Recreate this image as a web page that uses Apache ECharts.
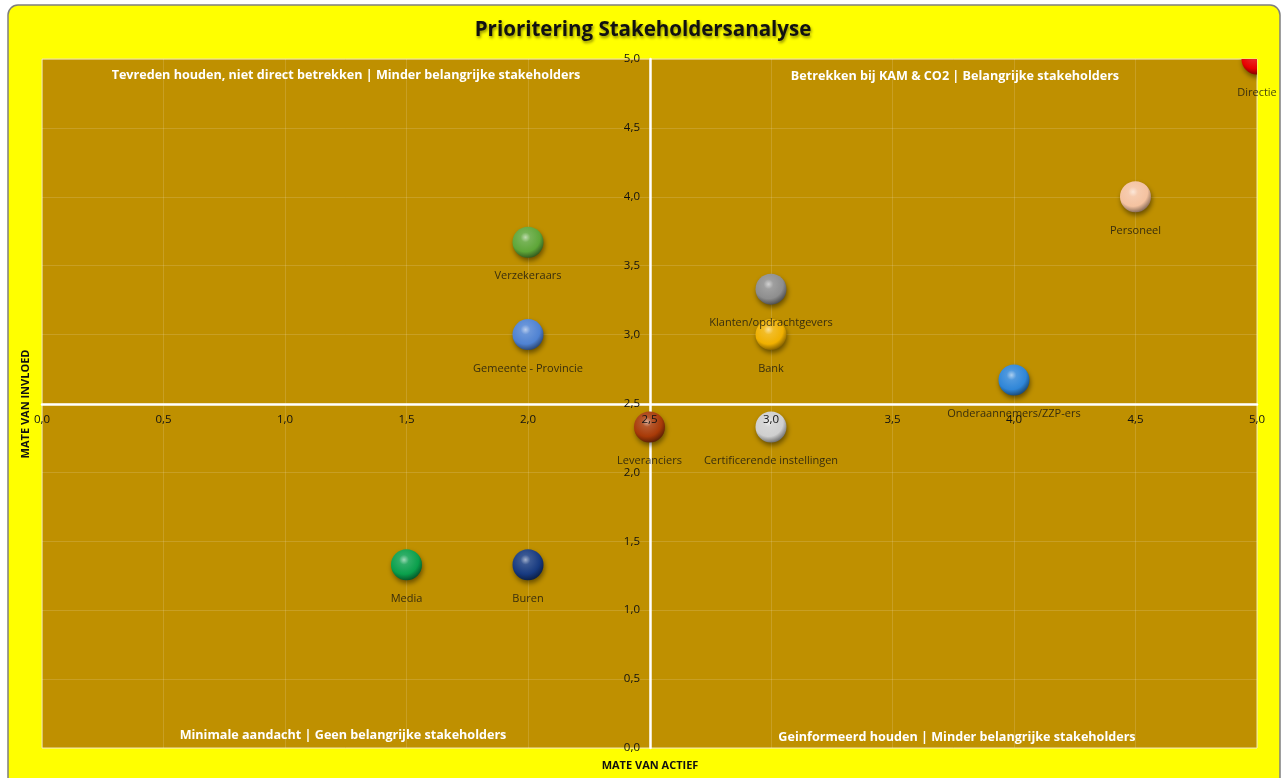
<!DOCTYPE html>
<html>
<head>
<meta charset="utf-8">
<script src="https://cdn.jsdelivr.net/npm/echarts@6/dist/echarts.min.js"></script>
<style>
  html, body { margin:0; padding:0; background:#fff; }
  #chart { width:1282px; height:778px; }
</style>
</head>
<body>
<div id="chart"></div>
<script type="text/javascript">
// stakeholders en scores
var names = ['Directie','Personeel','Verzekeraars','Klanten/opdrachtgevers','Gemeente - Provincie','Bank',
             'Onderaannemers/ZZP-ers','Leveranciers','Certificerende instellingen','Media','Buren'];
var actief  = [5.0, 4.5, 2.0, 3.0, 2.0, 3.0, 4.0, 2.5, 3.0, 1.5, 2.0];
var invloed = [5.0, 4.0, 3.67, 3.33, 3.0, 3.0, 2.67, 2.33, 2.33, 1.33, 1.33];
var quadrantTexts = [
    'Tevreden houden, niet direct betrekken | Minder belangrijke stakeholders',
    'Betrekken bij KAM & CO2 | Belangrijke stakeholders',
    'Minimale aandacht | Geen belangrijke stakeholders',
    'Geinformeerd houden | Minder belangrijke stakeholders'
];

// bolkleuren
var colors = ['#e80000','#f4c2a0','#5ea638','#8e8e8e','#4f82d2','#f0b000',
              '#2f86d8','#a83a08','#cfcfcf','#0aa04c','#173a80'];

function shade(hex, f){
    var r = parseInt(hex.substr(1,2),16), g = parseInt(hex.substr(3,2),16), b = parseInt(hex.substr(5,2),16);
    function m(c){ return Math.max(0, Math.min(255, Math.round(f >= 0 ? c + (255-c)*f : c*(1+f)))); }
    return 'rgb(' + m(r) + ',' + m(g) + ',' + m(b) + ')';
}

function sphere(c){
    return new echarts.graphic.RadialGradient(0.42, 0.34, 0.72, [
        {offset:0, color:shade(c, 0.6)},
        {offset:0.22, color:shade(c, 0.15)},
        {offset:0.65, color:c},
        {offset:1, color:shade(c, -0.55)}
    ]);
}

var fmt = function(v){ return v.toFixed(1).replace('.', ','); };
var font = '"Open Sans", "Noto Sans", sans-serif';

var points = [];
for (var i = 0; i < names.length; i++) {
    points.push({ value: [actief[i], invloed[i], i], name: names[i] });
}

var chart = echarts.init(document.getElementById('chart'));
var option = {
    animation: false,
    textStyle: { fontFamily: font },
    grid: {
        left: 42, right: 25, top: 59, bottom: 30,
        show: true,
        backgroundColor: '#bf9000',
        borderColor: '#efe3b0',
        borderWidth: 1
    },
    graphic: [
        { type:'rect', z:-10, silent:true,
          shape:{ x:8, y:5, width:1272, height:800, r:10 },
          style:{ fill:'#ffff00', stroke:'#7f7f7f', lineWidth:1.5 } },
        { type:'text', x:643, y:30,
          style:{ text:'Prioritering Stakeholdersanalyse', fill:'#111', align:'center', verticalAlign:'middle',
                  font:'bold 20.5px ' + font, textShadowColor:'rgba(0,0,0,0.45)',
                  textShadowBlur:3, textShadowOffsetX:1, textShadowOffsetY:2 } },
        { type:'text', x:346, y:75, z:20,
          style:{ text:quadrantTexts[0], fill:'#fff', font:'bold 12.6px ' + font, align:'center', verticalAlign:'middle' } },
        { type:'text', x:955, y:76, z:20,
          style:{ text:quadrantTexts[1], fill:'#fff', font:'bold 12.6px ' + font, align:'center', verticalAlign:'middle' } },
        { type:'text', x:343, y:735, z:20,
          style:{ text:quadrantTexts[2], fill:'#fff', font:'bold 12.6px ' + font, align:'center', verticalAlign:'middle' } },
        { type:'text', x:957, y:737, z:20,
          style:{ text:quadrantTexts[3], fill:'#fff', font:'bold 12.6px ' + font, align:'center', verticalAlign:'middle' } },
        { type:'text', x:650, y:766,
          style:{ text:'MATE VAN ACTIEF', fill:'#111', font:'bold 11px ' + font, align:'center', verticalAlign:'middle' } },
        { type:'text', x:26, y:404, rotation:Math.PI/2,
          style:{ text:'MATE VAN INVLOED', fill:'#111', font:'bold 11px ' + font, align:'center', verticalAlign:'middle' } }
    ],
    xAxis: [
        {   // assenkruis (lijn)
            type:'value', min:0, max:5, interval:0.5,
            position:'bottom', offset:-344, z:1,
            axisLine:{ lineStyle:{ color:'#fff', width:2.5 } },
            axisTick:{ show:false },
            axisLabel:{ show:false },
            splitLine:{ lineStyle:{ color:'rgba(255,255,255,0.14)', width:1 } }
        },
        {   // labels boven de bollen
            type:'value', min:0, max:5, interval:0.5,
            position:'bottom', offset:-344, z:10,
            axisLine:{ show:false }, axisTick:{ show:false }, splitLine:{ show:false },
            axisLabel:{ color:'#111', fontSize:11.5, margin:10, formatter:fmt }
        }
    ],
    yAxis: [
        {
            type:'value', min:0, max:5, interval:0.5,
            position:'left', offset:-608, z:1,
            axisLine:{ lineStyle:{ color:'#fff', width:2.5 } },
            axisTick:{ show:false },
            axisLabel:{ show:false },
            splitLine:{ lineStyle:{ color:'rgba(255,255,255,0.14)', width:1 } }
        },
        {
            type:'value', min:0, max:5, interval:0.5,
            position:'left', offset:-608, z:10,
            axisLine:{ show:false }, axisTick:{ show:false }, splitLine:{ show:false },
            axisLabel:{ color:'#111', fontSize:11.5, margin:10, formatter:fmt }
        }
    ],
    series: [
        {   // bollen, afgesneden op het plotvlak
            type:'custom',
            xAxisIndex:0, yAxisIndex:0,
            clip:true,
            z:5,
            renderItem: function(params, api){
                var p = api.coord([api.value(0), api.value(1)]);
                var c = colors[api.value(2)];
                return {
                    type:'circle',
                    shape:{ cx:p[0], cy:p[1], r:15.5 },
                    style:{ fill:sphere(c), shadowColor:'rgba(0,0,0,0.45)', shadowBlur:5,
                            shadowOffsetX:1, shadowOffsetY:3 }
                };
            },
            data: points
        },
        {   // namen onder de bollen
            type:'scatter',
            xAxisIndex:0, yAxisIndex:0,
            symbolSize:31,
            clip:false,
            z:6,
            silent:true,
            itemStyle:{ color:'rgba(0,0,0,0)' },
            label:{
                show:true, position:'bottom', distance:13,
                formatter:'{b}', color:'#111', fontSize:11, fontFamily:font
            },
            data: points
        }
    ]
};
chart.setOption(option);
</script>
</body>
</html>
